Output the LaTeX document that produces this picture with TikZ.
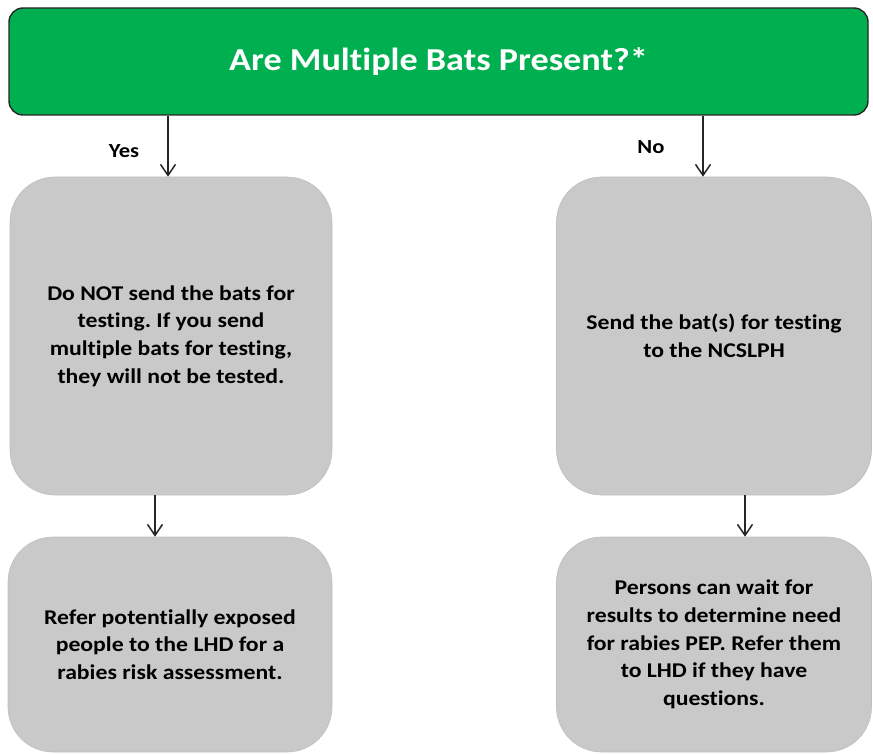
\documentclass[tikz,border=0pt]{standalone}
\usepackage{fontspec}
\setmainfont{Carlito}[FakeStretch=1.13, Ligatures=NoCommon]
\usetikzlibrary{arrows.meta}
\frenchspacing
\definecolor{hdrgreen}{HTML}{00B050}
\definecolor{boxgray}{HTML}{C9C9C9}
\definecolor{edgegray}{HTML}{C0C0C0}
\tikzset{
  header/.style={draw=black!85, line width=1.4pt, fill=hdrgreen, rounded corners=14pt,
    minimum width=859pt, minimum height=107pt, inner sep=0pt,
    text=white, font=\fontsize{32}{38}\selectfont\bfseries},
  graybox/.style={fill=boxgray, draw=edgegray, line width=0.6pt, rounded corners=45pt,
    inner sep=0pt, align=center, text=black,
    font=\fontsize{21}{27.7}\selectfont\bfseries},
  lbl/.style={font=\fontsize{20}{22}\selectfont\bfseries, text=black},
  arr/.style={line width=1.5pt, black!85,
    -{Straight Barb[length=11pt,width=15pt,line width=1.5pt]}}
}
\begin{document}
\begin{tikzpicture}[x=1pt,y=-1pt]
\useasboundingbox (0,0) rectangle (873,754);
\node[header] (q) at (438.5,61.5) {Are Multiple Bats Present?*};
\node[graybox, minimum width=322pt, minimum height=318pt] (b1) at (171,336)
  {Do NOT send the bats for\\testing. If you send\\multiple bats for testing,\\they will not be tested.};
\node[graybox, minimum width=315pt, minimum height=318pt] (b2) at (714,336)
  {Send the bat(s) for testing\\to the NCSLPH};
\node[graybox, minimum width=324pt, minimum height=215pt] (b3) at (170,644.5)
  {Refer potentially exposed\\people to the LHD for a\\rabies risk assessment.};
\node[graybox, minimum width=315pt, minimum height=215pt] (b4) at (714,644.5)
  {Persons can wait for\\results to determine need\\for rabies PEP. Refer them\\to LHD if they have\\questions.};
\node[lbl] (yes) at (124,151) {Yes};
\node[lbl] (no) at (651,147) {No};
\coordinate (xa) at (168,0);
\coordinate (xb) at (703,0);
\coordinate (xc) at (155,0);
\coordinate (xd) at (745,0);
\draw[arr] (q.south -| xa) -- (b1.north -| xa);
\draw[arr] (q.south -| xb) -- (b2.north -| xb);
\draw[arr] (b1.south -| xc) -- (b3.north -| xc);
\draw[arr] (b2.south -| xd) -- (b4.north -| xd);
\end{tikzpicture}
\end{document}
